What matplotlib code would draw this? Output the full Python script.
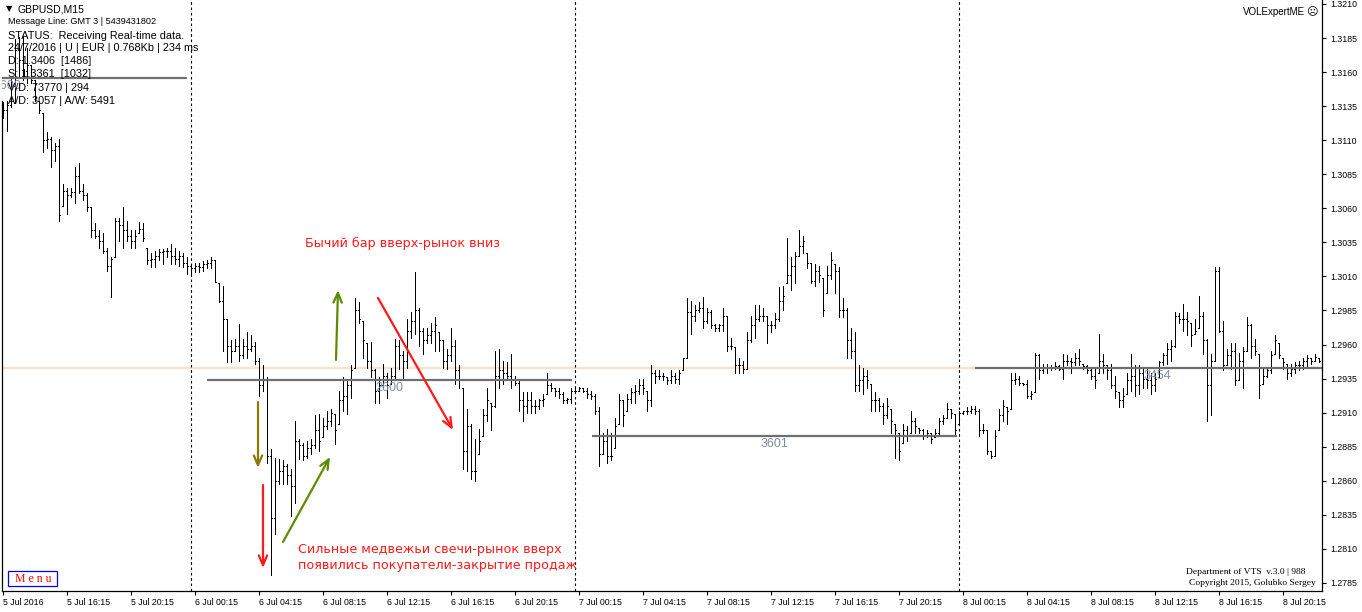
import matplotlib
matplotlib.use('Agg')
import matplotlib.pyplot as plt
from matplotlib.patches import Rectangle

# ---------------- data (GBPUSD M15, 5-8 Jul 2016) ----------------
highs = [
    1.3138, 1.3139, 1.3156, 1.3184, 1.3186, 1.3186, 1.3178, 1.3165, 1.3154, 1.3139,
    1.3130, 1.3116, 1.3112, 1.3108, 1.3111, 1.3078, 1.3075, 1.3075, 1.3090, 1.3093,
    1.3078, 1.3071, 1.3061, 1.3049, 1.3044, 1.3042, 1.3031, 1.3024, 1.3053, 1.3053,
    1.3061, 1.3051, 1.3044, 1.3044, 1.3050, 1.3049, 1.3031, 1.3027, 1.3029, 1.3030,
    1.3030, 1.3031, 1.3034, 1.3031, 1.3029, 1.3027, 1.3024, 1.3019, 1.3020, 1.3020,
    1.3021, 1.3022, 1.3024, 1.3022, 1.3005, 1.3003, 1.2979, 1.2963, 1.2964, 1.2975,
    1.2964, 1.2969, 1.2967, 1.2962, 1.2950, 1.2945, 1.2936, 1.2883, 1.2877, 1.2876,
    1.2875, 1.2872, 1.2869, 1.2904, 1.2891, 1.2888, 1.2889, 1.2891, 1.2908, 1.2909,
    1.2906, 1.2911, 1.2913, 1.2909, 1.2926, 1.2936, 1.2934, 1.2945, 1.2994, 1.2991,
    1.2977, 1.2961, 1.2962, 1.2942, 1.2936, 1.2946, 1.2939, 1.2943, 1.2964, 1.2963,
    1.2955, 1.2979, 1.2984, 1.3013, 1.2987, 1.2972, 1.2972, 1.2976, 1.2980, 1.2969,
    1.2963, 1.2957, 1.2972, 1.2963, 1.2945, 1.2928, 1.2913, 1.2902, 1.2891, 1.2898,
    1.2913, 1.2928, 1.2917, 1.2955, 1.2957, 1.2948, 1.2947, 1.2953, 1.2937, 1.2934,
    1.2925, 1.2925, 1.2925, 1.2919, 1.2920, 1.2924, 1.2939, 1.2932, 1.2928, 1.2928,
    1.2925, 1.2921, 1.2928, 1.2928, 1.2929, 1.2928, 1.2928, 1.2926, 1.2924, 1.2914,
    1.2895, 1.2898, 1.2895, 1.2906, 1.2924, 1.2919, 1.2924, 1.2928, 1.2930, 1.2935,
    1.2935, 1.2926, 1.2945, 1.2941, 1.2941, 1.2939, 1.2936, 1.2941, 1.2939, 1.2941,
    1.2950, 1.2994, 1.2992, 1.2989, 1.2991, 1.2995, 1.2987, 1.2985, 1.2975, 1.2975,
    1.2987, 1.2981, 1.2965, 1.2958, 1.2950, 1.2948, 1.2969, 1.2981, 1.2989, 1.2989,
    1.2987, 1.2981, 1.2977, 1.2983, 1.3002, 1.3003, 1.3038, 1.3024, 1.3028, 1.3044,
    1.3040, 1.3027, 1.3020, 1.3019, 1.3018, 1.3009, 1.3018, 1.3028, 1.3019, 1.3017,
    1.2994, 1.2987, 1.2972, 1.2969, 1.2945, 1.2943, 1.2941, 1.2931, 1.2925, 1.2921,
    1.2917, 1.2921, 1.2913, 1.2902, 1.2895, 1.2902, 1.2900, 1.2911, 1.2906, 1.2899,
    1.2898, 1.2897, 1.2895, 1.2898, 1.2906, 1.2908, 1.2917, 1.2913, 1.2909, 1.2911,
    1.2911, 1.2914, 1.2915, 1.2915, 1.2913, 1.2902, 1.2897, 1.2882, 1.2897, 1.2913,
    1.2919, 1.2914, 1.2939, 1.2939, 1.2937, 1.2932, 1.2934, 1.2926, 1.2954, 1.2953,
    1.2946, 1.2946, 1.2945, 1.2947, 1.2945, 1.2953, 1.2952, 1.2950, 1.2954, 1.2957,
    1.2946, 1.2945, 1.2943, 1.2942, 1.2968, 1.2953, 1.2945, 1.2946, 1.2937, 1.2925,
    1.2928, 1.2939, 1.2953, 1.2945, 1.2945, 1.2942, 1.2942, 1.2939, 1.2939, 1.2948,
    1.2954, 1.2961, 1.2963, 1.2984, 1.2983, 1.2990, 1.2984, 1.2976, 1.2979, 1.2996,
    1.2984, 1.2964, 1.2953, 1.3017, 1.3017, 1.2977, 1.2957, 1.2961, 1.2961, 1.2954,
    1.2958, 1.2980, 1.2975, 1.2964, 1.2953, 1.2942, 1.2943, 1.2955, 1.2967, 1.2961,
    1.2950, 1.2946, 1.2946, 1.2947, 1.2948, 1.2950, 1.2952, 1.2950, 1.2953, 1.2950,
]
lows = [
    1.3126, 1.3117, 1.3134, 1.3137, 1.3156, 1.3154, 1.3152, 1.3152, 1.3139, 1.3130,
    1.3101, 1.3104, 1.3090, 1.3095, 1.3051, 1.3062, 1.3056, 1.3068, 1.3064, 1.3071,
    1.3066, 1.3058, 1.3039, 1.3038, 1.3031, 1.3027, 1.3014, 1.2995, 1.3024, 1.3036,
    1.3031, 1.3036, 1.3031, 1.3031, 1.3042, 1.3036, 1.3019, 1.3017, 1.3017, 1.3022,
    1.3019, 1.3024, 1.3019, 1.3019, 1.3018, 1.3017, 1.3012, 1.3012, 1.3013, 1.3013,
    1.3014, 1.3016, 1.3016, 1.3006, 1.2991, 1.2955, 1.2947, 1.2947, 1.2955, 1.2948,
    1.2950, 1.2950, 1.2955, 1.2946, 1.2922, 1.2926, 1.2873, 1.2791, 1.2821, 1.2858,
    1.2858, 1.2858, 1.2834, 1.2844, 1.2876, 1.2875, 1.2877, 1.2880, 1.2884, 1.2882,
    1.2892, 1.2898, 1.2900, 1.2887, 1.2902, 1.2911, 1.2909, 1.2921, 1.2943, 1.2976,
    1.2950, 1.2943, 1.2936, 1.2917, 1.2917, 1.2928, 1.2921, 1.2931, 1.2934, 1.2942,
    1.2934, 1.2943, 1.2965, 1.2968, 1.2959, 1.2953, 1.2961, 1.2961, 1.2955, 1.2955,
    1.2943, 1.2942, 1.2948, 1.2931, 1.2928, 1.2869, 1.2867, 1.2861, 1.2860, 1.2880,
    1.2893, 1.2904, 1.2897, 1.2914, 1.2928, 1.2931, 1.2934, 1.2928, 1.2930, 1.2911,
    1.2904, 1.2910, 1.2910, 1.2910, 1.2913, 1.2915, 1.2924, 1.2926, 1.2922, 1.2921,
    1.2917, 1.2917, 1.2917, 1.2925, 1.2926, 1.2925, 1.2921, 1.2920, 1.2909, 1.2871,
    1.2880, 1.2873, 1.2875, 1.2884, 1.2902, 1.2900, 1.2911, 1.2917, 1.2917, 1.2924,
    1.2924, 1.2911, 1.2915, 1.2932, 1.2935, 1.2934, 1.2931, 1.2932, 1.2932, 1.2931,
    1.2941, 1.2950, 1.2968, 1.2977, 1.2984, 1.2972, 1.2976, 1.2972, 1.2970, 1.2970,
    1.2970, 1.2955, 1.2957, 1.2939, 1.2939, 1.2939, 1.2942, 1.2962, 1.2965, 1.2977,
    1.2977, 1.2961, 1.2969, 1.2972, 1.2977, 1.2985, 1.3005, 1.3000, 1.3005, 1.3025,
    1.3027, 1.3016, 1.3005, 1.3003, 1.3006, 1.2981, 1.2998, 1.3008, 1.2998, 1.2980,
    1.2980, 1.2950, 1.2950, 1.2926, 1.2926, 1.2924, 1.2928, 1.2911, 1.2911, 1.2911,
    1.2902, 1.2906, 1.2895, 1.2877, 1.2875, 1.2888, 1.2889, 1.2895, 1.2895, 1.2895,
    1.2891, 1.2892, 1.2888, 1.2892, 1.2893, 1.2902, 1.2906, 1.2906, 1.2893, 1.2902,
    1.2909, 1.2909, 1.2910, 1.2909, 1.2893, 1.2895, 1.2880, 1.2877, 1.2878, 1.2897,
    1.2904, 1.2902, 1.2913, 1.2931, 1.2930, 1.2930, 1.2921, 1.2920, 1.2925, 1.2935,
    1.2939, 1.2939, 1.2941, 1.2942, 1.2941, 1.2935, 1.2945, 1.2939, 1.2945, 1.2945,
    1.2942, 1.2939, 1.2935, 1.2928, 1.2939, 1.2939, 1.2935, 1.2928, 1.2921, 1.2914,
    1.2914, 1.2924, 1.2926, 1.2922, 1.2924, 1.2928, 1.2928, 1.2924, 1.2926, 1.2936,
    1.2945, 1.2946, 1.2948, 1.2958, 1.2976, 1.2970, 1.2967, 1.2959, 1.2968, 1.2972,
    1.2953, 1.2904, 1.2908, 1.2948, 1.2969, 1.2941, 1.2945, 1.2942, 1.2930, 1.2934,
    1.2928, 1.2955, 1.2950, 1.2952, 1.2921, 1.2931, 1.2936, 1.2939, 1.2953, 1.2950,
    1.2942, 1.2935, 1.2937, 1.2939, 1.2941, 1.2942, 1.2943, 1.2946, 1.2948, 1.2947,
]
closes = [
    1.3132, 1.3136, 1.3150, 1.3176, 1.3169, 1.3161, 1.3165, 1.3154, 1.3142, 1.3132,
    1.3110, 1.3111, 1.3103, 1.3106, 1.3055, 1.3073, 1.3070, 1.3072, 1.3084, 1.3073,
    1.3070, 1.3061, 1.3044, 1.3040, 1.3036, 1.3029, 1.3018, 1.3023, 1.3051, 1.3048,
    1.3044, 1.3040, 1.3036, 1.3040, 1.3045, 1.3038, 1.3022, 1.3023, 1.3025, 1.3028,
    1.3029, 1.3029, 1.3025, 1.3023, 1.3025, 1.3020, 1.3018, 1.3016, 1.3018, 1.3017,
    1.3019, 1.3020, 1.3022, 1.3006, 1.2992, 1.2979, 1.2959, 1.2955, 1.2959, 1.2952,
    1.2959, 1.2957, 1.2959, 1.2948, 1.2930, 1.2935, 1.2878, 1.2833, 1.2860, 1.2867,
    1.2871, 1.2864, 1.2856, 1.2889, 1.2886, 1.2878, 1.2884, 1.2886, 1.2897, 1.2889,
    1.2900, 1.2904, 1.2910, 1.2897, 1.2919, 1.2922, 1.2930, 1.2941, 1.2985, 1.2979,
    1.2963, 1.2948, 1.2941, 1.2926, 1.2930, 1.2937, 1.2930, 1.2937, 1.2959, 1.2952,
    1.2948, 1.2970, 1.2977, 1.2985, 1.2970, 1.2963, 1.2967, 1.2970, 1.2974, 1.2963,
    1.2948, 1.2952, 1.2959, 1.2941, 1.2934, 1.2882, 1.2900, 1.2867, 1.2867, 1.2889,
    1.2908, 1.2919, 1.2915, 1.2937, 1.2941, 1.2939, 1.2937, 1.2934, 1.2932, 1.2919,
    1.2915, 1.2919, 1.2915, 1.2915, 1.2919, 1.2920, 1.2930, 1.2928, 1.2926, 1.2924,
    1.2919, 1.2920, 1.2926, 1.2926, 1.2928, 1.2926, 1.2924, 1.2922, 1.2911, 1.2880,
    1.2889, 1.2878, 1.2878, 1.2900, 1.2919, 1.2908, 1.2920, 1.2925, 1.2926, 1.2930,
    1.2928, 1.2919, 1.2939, 1.2937, 1.2937, 1.2937, 1.2934, 1.2937, 1.2935, 1.2939,
    1.2950, 1.2984, 1.2981, 1.2985, 1.2987, 1.2977, 1.2984, 1.2974, 1.2972, 1.2974,
    1.2981, 1.2959, 1.2959, 1.2945, 1.2945, 1.2942, 1.2963, 1.2974, 1.2979, 1.2981,
    1.2981, 1.2974, 1.2974, 1.2979, 1.2992, 1.2996, 1.3011, 1.3018, 1.3025, 1.3032,
    1.3036, 1.3020, 1.3007, 1.3014, 1.3011, 1.2985, 1.3011, 1.3022, 1.3014, 1.2985,
    1.2985, 1.2963, 1.2955, 1.2930, 1.2934, 1.2937, 1.2934, 1.2919, 1.2919, 1.2915,
    1.2908, 1.2915, 1.2904, 1.2897, 1.2882, 1.2897, 1.2893, 1.2904, 1.2900, 1.2897,
    1.2893, 1.2895, 1.2891, 1.2895, 1.2904, 1.2906, 1.2913, 1.2910, 1.2897, 1.2910,
    1.2911, 1.2911, 1.2913, 1.2911, 1.2897, 1.2897, 1.2882, 1.2878, 1.2893, 1.2908,
    1.2915, 1.2911, 1.2934, 1.2935, 1.2932, 1.2931, 1.2922, 1.2924, 1.2952, 1.2941,
    1.2943, 1.2943, 1.2943, 1.2944, 1.2942, 1.2948, 1.2948, 1.2947, 1.2950, 1.2948,
    1.2944, 1.2941, 1.2937, 1.2934, 1.2948, 1.2945, 1.2941, 1.2930, 1.2926, 1.2919,
    1.2922, 1.2934, 1.2937, 1.2930, 1.2939, 1.2935, 1.2934, 1.2930, 1.2935, 1.2947,
    1.2952, 1.2957, 1.2959, 1.2981, 1.2979, 1.2979, 1.2977, 1.2967, 1.2970, 1.2981,
    1.2963, 1.2930, 1.2948, 1.3014, 1.2970, 1.2945, 1.2952, 1.2955, 1.2934, 1.2948,
    1.2955, 1.2974, 1.2959, 1.2955, 1.2930, 1.2937, 1.2941, 1.2952, 1.2963, 1.2952,
    1.2947, 1.2939, 1.2942, 1.2945, 1.2945, 1.2948, 1.2950, 1.2948, 1.2951, 1.2948,
]

time_tick_bars = [0, 16, 32, 48, 64, 80, 96, 112, 128, 144, 160, 176, 192, 208,
                  224, 240, 256, 272, 288, 304, 320]
time_tick_labels = ['5 Jul 2016', '5 Jul 16:15', '5 Jul 20:15', '6 Jul 00:15',
                    '6 Jul 04:15', '6 Jul 08:15', '6 Jul 12:15', '6 Jul 16:15',
                    '6 Jul 20:15', '7 Jul 00:15', '7 Jul 04:15', '7 Jul 08:15',
                    '7 Jul 12:15', '7 Jul 16:15', '7 Jul 20:15', '8 Jul 00:15',
                    '8 Jul 04:15', '8 Jul 08:15', '8 Jul 12:15', '8 Jul 16:15',
                    '8 Jul 20:15']
price_ticks = [1.2785, 1.2810, 1.2835, 1.2860, 1.2885, 1.2910, 1.2935, 1.2960,
               1.2985, 1.3010, 1.3035, 1.3060, 1.3085, 1.3110, 1.3135, 1.3160,
               1.3185, 1.3210]
day_separators = [47, 143, 239]
level_prices = [1.3156, 1.2934, 1.2893, 1.2943]
level_starts = [-44.0, 51.0, 147.25, 243.0]
level_ends = [46.0, 142.25, 238.5, 334.0]
level_labels = ['3600', '2600', '3601', '3454']
bid_price = 1.2943

header_lines = ['Message Line: GMT 3 | 5439431802',
                'STATUS:  Receiving Real-time data.',
                '24/7/2016 | U | EUR | 0.768Kb | 234 ms',
                'D: 1.3406  [1486]',
                'S: 1.3361  [1032]',
                'V/D: 73770 | 294',
                'A/D: 3057 | A/W: 5491']

# ---------------- figure ----------------
W, H = 1362, 612
fig = plt.figure(figsize=(W / 100, H / 100), dpi=100)
fig.patch.set_facecolor('white')
ax = fig.add_axes([2 / W, 21 / H, 1320 / W, 591 / H])
ax.set_xlim(-0.25, 329.75)
ax.set_ylim(1.27791, 1.32129)
ax.set_facecolor('white')

def fx(px):
    return px / W

def fy(py):
    return 1 - py / H

n = len(closes)
xs = list(range(n))
opens = [closes[0]] + closes[:-1]
opens = [min(max(o, lo), hi) for o, lo, hi in zip(opens, lows, highs)]

# bid line
ax.axhline(bid_price, color='#f7e3cc', lw=1.6, zorder=1)

# day separators
for d in day_separators:
    ax.axvline(d, color='black', lw=0.8, ls=(0, (2.4, 2.4)), zorder=2)

# OHLC bars
bar_lw = 0.72
ax.vlines(xs, lows, highs, colors='black', lw=bar_lw, zorder=3, antialiased=False)
ax.hlines(opens, [x - 0.3 for x in xs], xs, colors='black', lw=bar_lw, zorder=3,
          antialiased=False)
ax.hlines(closes, xs, [x + 0.3 for x in xs], colors='black', lw=bar_lw, zorder=3,
          antialiased=False)

# level lines with labels
for p, s, e, lab in zip(level_prices, level_starts, level_ends, level_labels):
    ax.hlines(p, max(s, -0.25), min(e, 329.75), colors='#6f6f6f', lw=1.6, zorder=4)
    ax.text((s + e) / 2, p - 0.0006, lab, ha='center', va='center',
            fontsize=9, color='#7d8ca8', family='Liberation Sans', zorder=5,
            clip_on=True)

# arrows
def arrow(x0, y0, x1, y1, color):
    ax.annotate('', xy=(x1, y1), xytext=(x0, y0),
                arrowprops=dict(arrowstyle='->,head_length=0.7,head_width=0.3',
                                color=color, lw=1.6, shrinkA=0, shrinkB=0),
                zorder=6)

arrow(63.75, 1.29178, 63.75, 1.28694, '#8c7a00')
arrow(65.0, 1.28569, 65.0, 1.27960, '#ff1a1a')
arrow(83.25, 1.29487, 83.75, 1.30000, '#5e8c00')
arrow(70.0, 1.28151, 81.75, 1.28775, '#5e8c00')
arrow(93.75, 1.29942, 112.5, 1.28973, '#ff1a1a')

# annotations
fig.text(fx(305), fy(243), 'Бычий бар вверх-рынок вниз', color='#ff1a1a',
         fontsize=9.2, family='DejaVu Sans', va='center', ha='left')
fig.text(fx(298), fy(550), 'Сильные медвежьи свечи-рынок вверх', color='#ff1a1a',
         fontsize=9.2, family='DejaVu Sans', va='center', ha='left')
fig.text(fx(298), fy(566), 'появились покупатели-закрытие продаж', color='#ff1a1a',
         fontsize=9.2, family='DejaVu Sans', va='center', ha='left')

# header text block
fig.text(fx(6), fy(9), '▼', fontsize=6, family='DejaVu Sans', va='center')
fig.text(fx(17), fy(9), 'GBPUSD,M15', fontsize=7.5, family='Liberation Sans',
         va='center')
ys = [22, 36, 48, 61, 74, 88, 101]
sizes = [6.6, 7.8, 7.8, 7.8, 7.8, 7.8, 7.8]
for line, yy, sz in zip(header_lines, ys, sizes):
    fig.text(fx(8), fy(yy), line, fontsize=sz, family='Liberation Sans',
             va='center', color='black')

# top-right label
fig.text(fx(1305), fy(12), 'VOLExpertME', fontsize=7, family='Liberation Sans',
         va='center', ha='right')
fig.text(fx(1312), fy(12), '☹', fontsize=8, family='DejaVu Sans',
         va='center', ha='center')

# bottom-right copyright
fig.text(fx(1306), fy(572), 'Department of VTS  v.3.0 | 988', fontsize=6.8,
         family='Liberation Serif', va='center', ha='right')
fig.text(fx(1316), fy(583), 'Copyright 2015, Golubko Sergey', fontsize=6.8,
         family='Liberation Serif', va='center', ha='right')

# menu button
fig.patches.append(Rectangle((fx(8), fy(586)), (57 - 8) / W, (586 - 571) / H,
                             transform=fig.transFigure, fill=False,
                             edgecolor='#0000ff', lw=0.9))
fig.text(fx(33), fy(578.5), 'M e n u', fontsize=8.5, family='Liberation Serif',
         color='#ff0000', va='center', ha='center')

# axes styling
ax.spines['top'].set_visible(False)
ax.spines['left'].set_bounds(1.27791, 1.3139)
for side in ['left', 'right', 'bottom']:
    ax.spines[side].set_color('black')
    ax.spines[side].set_linewidth(0.9)

ax.yaxis.tick_right()
ax.set_yticks(price_ticks)
ax.set_yticklabels(['%.4f' % v for v in price_ticks])
ax.tick_params(axis='y', direction='out', length=3, width=0.8, pad=3,
               labelsize=6.3, colors='black')
ax.set_xticks(time_tick_bars)
ax.set_xticklabels(time_tick_labels, ha='left')
ax.tick_params(axis='x', direction='out', length=3, width=0.8, pad=2,
               labelsize=6.3, colors='black')
for lab in ax.get_xticklabels() + ax.get_yticklabels():
    lab.set_family('Liberation Sans')

fig.savefig('out.png', dpi=100, facecolor='white')
